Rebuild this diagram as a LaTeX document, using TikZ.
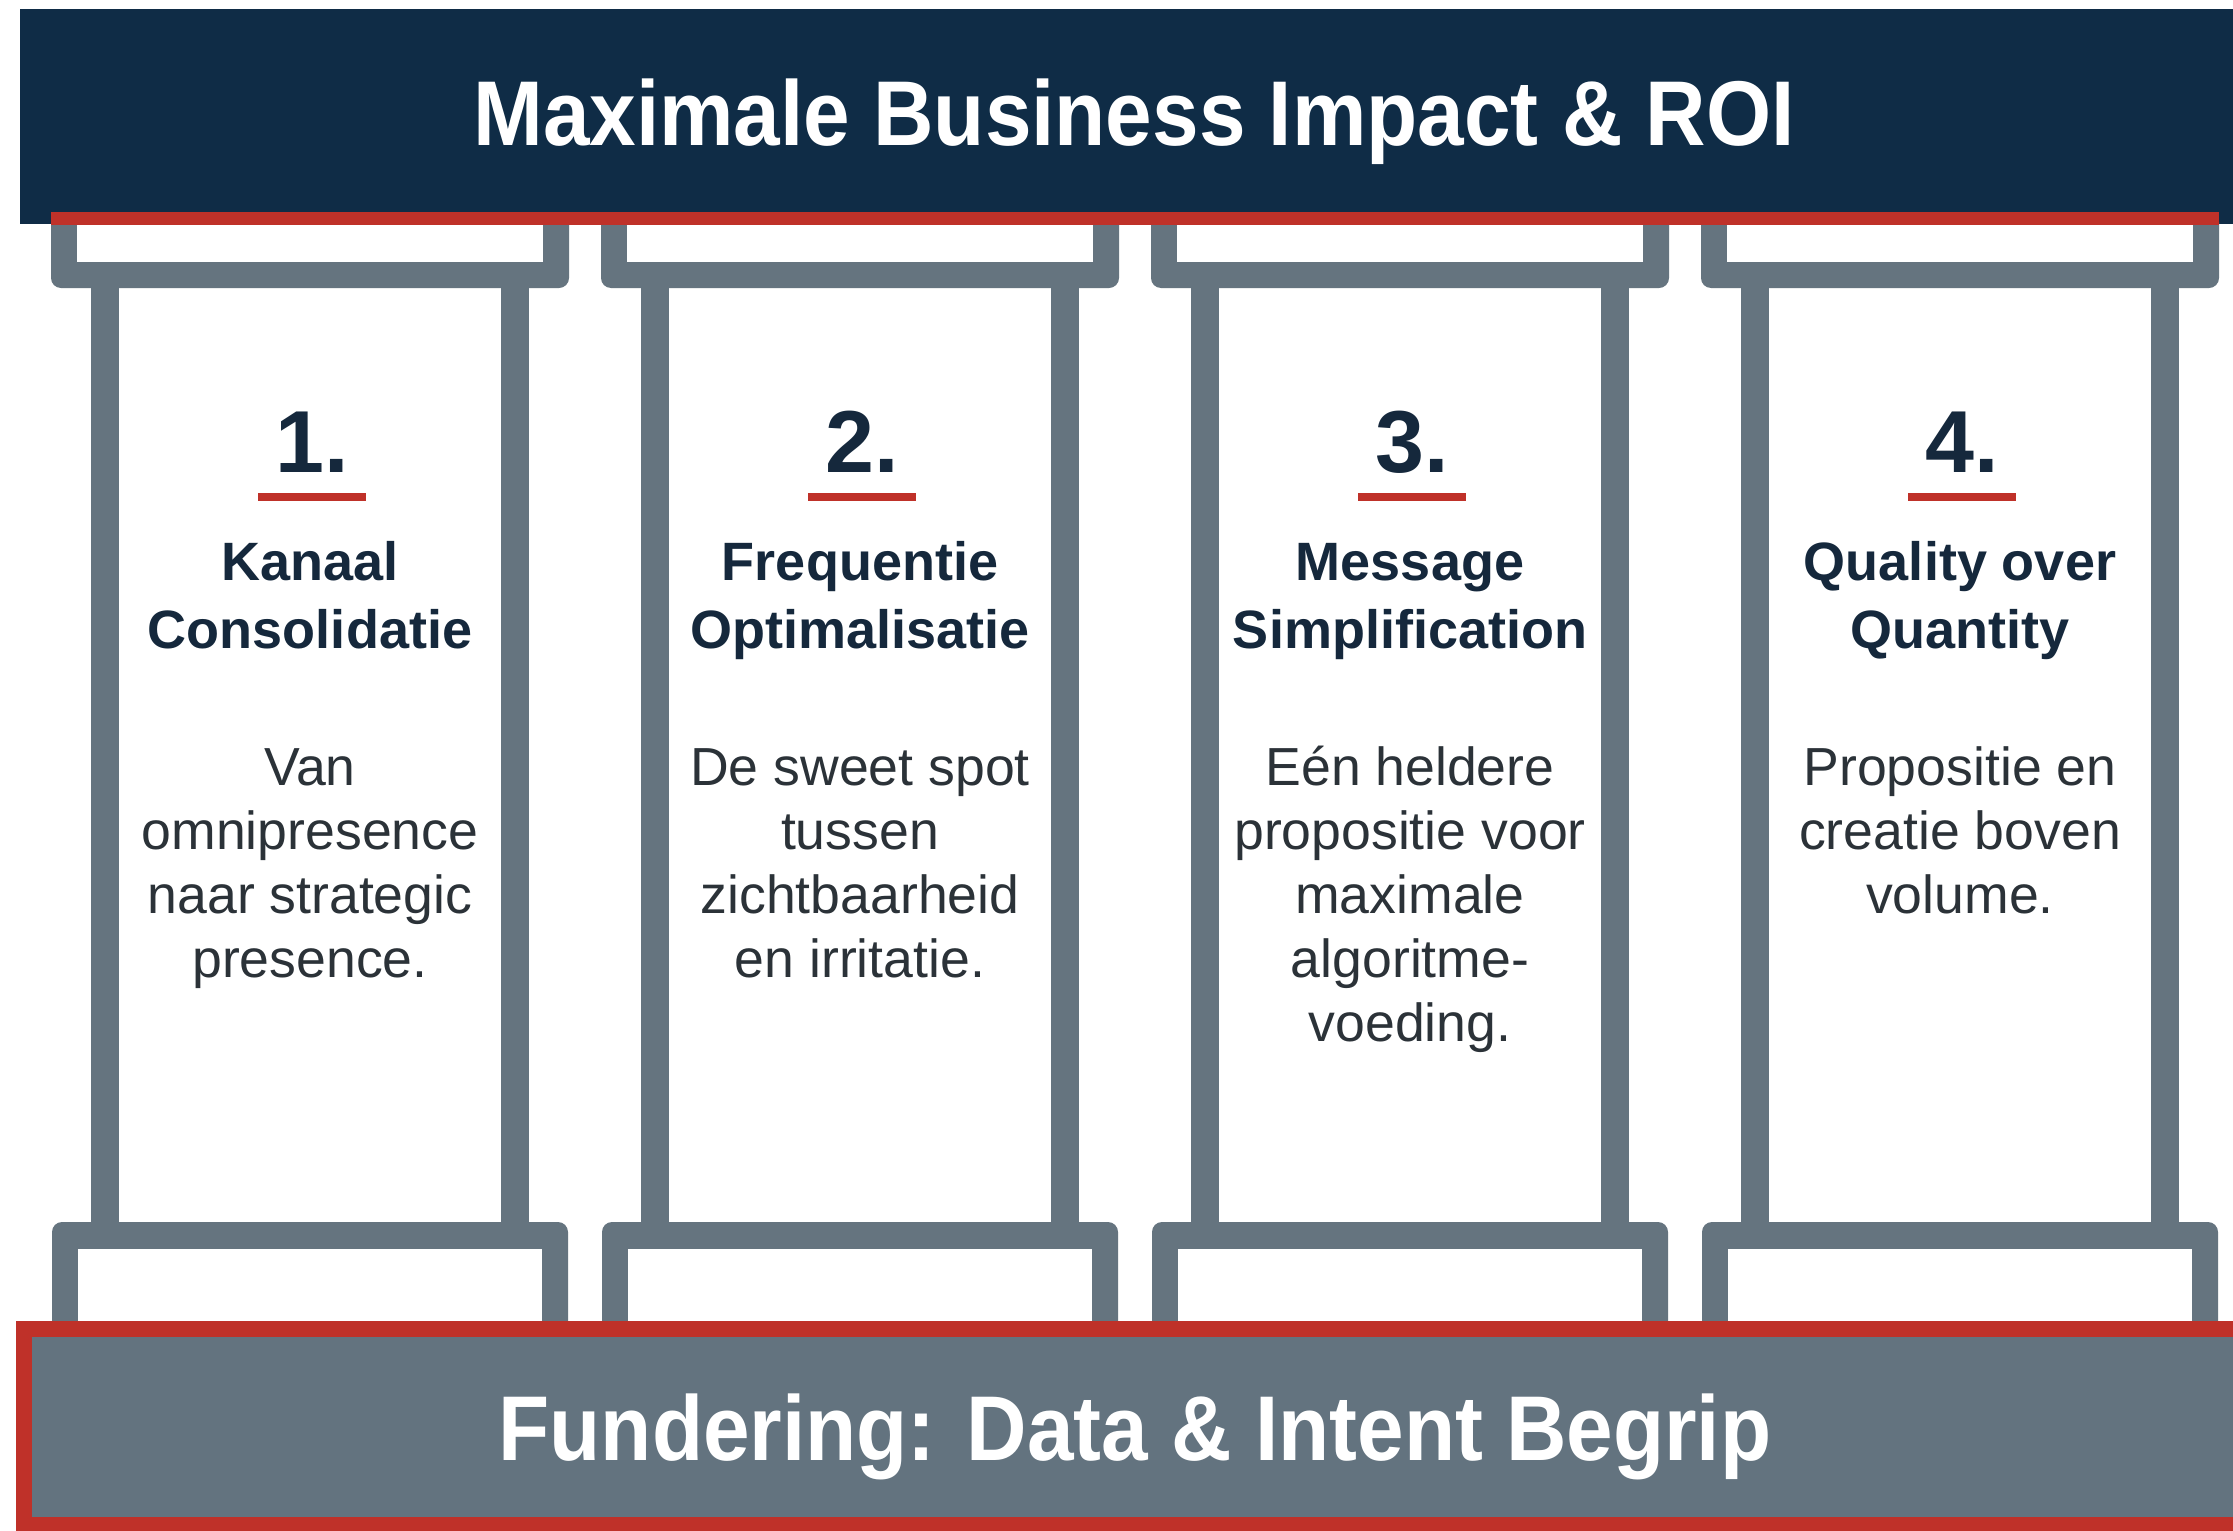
\documentclass[tikz,border=0pt]{standalone}
\usepackage{fontspec}
\usepackage{graphicx}
\setmainfont{Liberation Sans}

\definecolor{cNavy}{HTML}{0F2C46}
\definecolor{cRed}{HTML}{BF3129}
\definecolor{cSlate}{HTML}{65747F}
\definecolor{cBase}{HTML}{63737F}
\definecolor{cHead}{HTML}{15283C}
\definecolor{cBody}{HTML}{2B3238}

% multi-line nodes are anchored at the baseline of their last line
\tikzset{
  bannertext/.style={text=white, inner sep=0pt, anchor=base,
    font=\fontsize{46}{52}\selectfont\bfseries},
  numbertext/.style={text=cHead, inner sep=0pt, anchor=base,
    font=\fontsize{44}{50}\selectfont\bfseries},
  headingtext/.style={text=cHead, inner sep=0pt, anchor=base, align=center,
    font=\fontsize{27}{34}\selectfont\bfseries},
  bodytext/.style={text=cBody, inner sep=0pt, anchor=base, align=center,
    font=\fontsize{26.8}{32}\selectfont},
}

% one pillar: shaft, capital and base around centre x = #1
\newcommand{\pillarat}[1]{%
  \fill[cSlate] ({#1-219},288) rectangle ({#1+219},1222);
  \fill[white]  ({#1-191},288) rectangle ({#1+191},1222);
  \fill[cSlate, rounded corners=5pt] ({#1-259},212) rectangle ({#1+259},288);
  \fill[white]  ({#1-233},212) rectangle ({#1+233},262);
  \fill[cSlate, rounded corners=5pt] ({#1-258},1222) rectangle ({#1+258},1345);
  \fill[white]  ({#1-232},1249) rectangle ({#1+232},1345);
  \fill[cRed]   ({#1-52},493) rectangle ({#1+56},501);
}

\begin{document}
\begin{tikzpicture}[x=0.5pt, y=-0.5pt]
  \clip (0,0) rectangle (2233,1531);
  \fill[white] (0,0) rectangle (2233,1531);

  % roof
  \fill[cNavy] (20,9) rectangle (2240,224);
  \node[bannertext] (roof) at (1134,145)
    {\scalebox{0.91}[1]{Maximale Business Impact \& ROI}};

  % pillars
  \pillarat{310}
  \pillarat{860}
  \pillarat{1410}
  \pillarat{1960}

  % red edge under the roof
  \fill[cRed] (51,212) rectangle (2219,225);

  % foundation
  \fill[cBase] (16,1321) rectangle (2245,1545);
  \draw[cRed, line width=8pt] (24,1329) rectangle (2260,1525);
  \node[bannertext] (foundation) at (1135,1460)
    {\scalebox{0.91}[1]{Fundering: Data \& Intent Begrip}};

  % pillar 1
  \node[numbertext] (n1) at (312,472) {1.};
  \node[headingtext] (h1) at (310,648) {Kanaal\\Consolidatie};
  \node[bodytext] (b1) at (310,977) {Van\\omnipresence\\naar strategic\\presence.};

  % pillar 2
  \node[numbertext] (n2) at (862,472) {2.};
  \node[headingtext] (h2) at (860,648) {Frequentie\\Optimalisatie};
  \node[bodytext] (b2) at (860,977) {De sweet spot\\tussen\\zichtbaarheid\\en irritatie.};

  % pillar 3
  \node[numbertext] (n3) at (1412,472) {3.};
  \node[headingtext] (h3) at (1410,648) {Message\\Simplification};
  \node[bodytext] (b3) at (1410,1041) {Eén heldere\\propositie voor\\maximale\\algoritme-\\voeding.};

  % pillar 4
  \node[numbertext] (n4) at (1962,472) {4.};
  \node[headingtext] (h4) at (1960,648) {Quality over\\Quantity};
  \node[bodytext] (b4) at (1960,913) {Propositie en\\creatie boven\\volume.};
\end{tikzpicture}
\end{document}
